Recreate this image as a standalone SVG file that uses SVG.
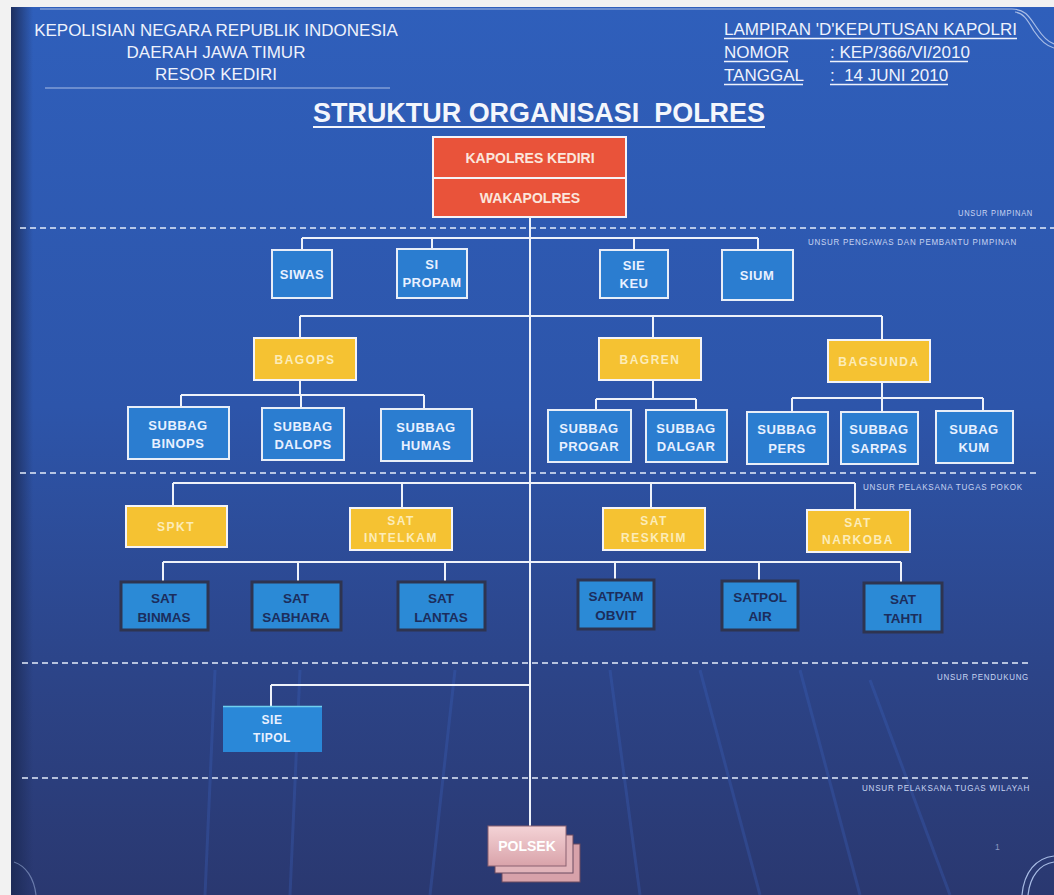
<svg xmlns="http://www.w3.org/2000/svg" width="1054" height="895" viewBox="0 0 1054 895">
<defs>
<linearGradient id="bg" x1="0" y1="0" x2="0" y2="1">
<stop offset="0" stop-color="#2f5fbb"/>
<stop offset="0.45" stop-color="#2d55aa"/>
<stop offset="0.75" stop-color="#2c4488"/>
<stop offset="1" stop-color="#2a3870"/>
</linearGradient>
<linearGradient id="leftshade" x1="0" y1="0" x2="1" y2="0">
<stop offset="0" stop-color="#1c2a55" stop-opacity="0.9"/>
<stop offset="1" stop-color="#1c2a55" stop-opacity="0"/>
</linearGradient>
<linearGradient id="pink" x1="0" y1="0" x2="0" y2="1">
<stop offset="0" stop-color="#f4d3d6"/>
<stop offset="1" stop-color="#d9a3aa"/>
</linearGradient>
<style>
.hdr{font-family:"Liberation Sans",Arial,sans-serif;font-size:17px;fill:#eef2fc}
.title{font-family:"Liberation Sans",Arial,sans-serif;font-size:27px;font-weight:bold;fill:#f4f6fc}
.lbl{font-family:"Liberation Sans",Arial,sans-serif;font-size:8.5px;fill:#c9d5f2;letter-spacing:0.8px}
.red{fill:#e9533a;stroke:#f4f4f8;stroke-width:2}
.rtx{font-family:"Liberation Sans",Arial,sans-serif;font-size:14px;font-weight:bold;fill:#fbe6dc;text-anchor:middle}
.blu{fill:#2b7dd0;stroke:#e8eef8;stroke-width:2}
.btx{font-family:"Liberation Sans",Arial,sans-serif;font-size:13px;font-weight:bold;fill:#e8f0ff;text-anchor:middle;letter-spacing:0.5px}
.yel{fill:#f5c232;stroke:#f4f4f8;stroke-width:2}
.ytx{font-family:"Liberation Sans",Arial,sans-serif;font-size:12px;font-weight:bold;fill:#fcecb8;text-anchor:middle;letter-spacing:1.5px}
.sat{fill:#2b8ad6;stroke:#2e3450;stroke-width:3}
.stx{font-family:"Liberation Sans",Arial,sans-serif;font-size:13.5px;font-weight:bold;fill:#1c2d5c;text-anchor:middle}
.dash{stroke:#e4ecfa;stroke-width:1.6;stroke-dasharray:6 4;fill:none}
.con path{stroke:#eef2fa;stroke-width:2;fill:none}
.deco{stroke:#a9bde6;stroke-width:1.2;fill:none}
.ray{stroke:#3b62c0;stroke-width:3;fill:none;opacity:0.3}
</style>
</defs>

<!-- background -->
<rect x="0" y="0" width="1054" height="895" fill="#f2f2f2"/>
<rect x="11" y="7" width="1043" height="888" fill="url(#bg)"/>
<rect x="11" y="7" width="22" height="888" fill="url(#leftshade)"/>

<!-- faint rays -->
<g id="rays">
<path class="ray" d="M215 670 L205 895"/>
<path class="ray" d="M300 670 L290 895"/>
<path class="ray" d="M455 670 L430 895"/>
<path class="ray" d="M610 670 L640 895"/>
<path class="ray" d="M700 670 L760 895"/>
<path class="ray" d="M800 670 L860 895"/>
<path class="ray" d="M870 680 L950 895"/>
</g>

<!-- decorations -->
<g id="decor">
<path class="deco" d="M40 9 H1012 C1026 9 1030 18 1037 28 C1043 37 1048 42 1054 44"/>
<path class="deco" d="M1015 12 C1024 13 1028 21 1034 31 C1040 40 1046 46 1054 48"/>
<path class="deco" d="M45 88 H390"/>
<path class="deco" d="M1054 856 C1036 858 1024 872 1022 895"/>
<path class="deco" d="M1054 862 C1040 864 1030 876 1028 895"/>
<path class="deco" d="M14 862 C26 866 34 878 36 895" opacity="0.5"/>
</g>

<!-- header -->
<g id="header">
<text class="hdr" x="216" y="36" text-anchor="middle">KEPOLISIAN NEGARA REPUBLIK INDONESIA</text>
<text class="hdr" x="216" y="58" text-anchor="middle">DAERAH JAWA TIMUR</text>
<text class="hdr" x="216" y="80" text-anchor="middle">RESOR KEDIRI</text>
<text class="hdr" x="724" y="35" textLength="293" lengthAdjust="spacingAndGlyphs">LAMPIRAN 'D'KEPUTUSAN KAPOLRI</text>
<text class="hdr" x="724" y="58">NOMOR</text>
<text class="hdr" x="830" y="58">: KEP/366/VI/2010</text>
<text class="hdr" x="724" y="81">TANGGAL</text>
<text class="hdr" x="830" y="81" xml:space="preserve">:  14 JUNI 2010</text>
<path stroke="#eef2fc" stroke-width="1.3" fill="none" d="M724 38.5 H1017 M724 61.5 H788 M830 61.5 H968 M724 84.5 H803 M830 84.5 H948"/>
<text class="title" x="539" y="122" text-anchor="middle" textLength="452" lengthAdjust="spacingAndGlyphs" xml:space="preserve">STRUKTUR ORGANISASI  POLRES</text>
<path stroke="#f4f6fc" stroke-width="2" d="M313 127 H765"/>
</g>

<!-- dashed separators and labels -->
<g id="bands">
<path class="dash" d="M20 228 H1054"/>
<path class="dash" d="M20 473 H1036"/>
<path class="dash" d="M22 663 H1030"/>
<path class="dash" d="M22 778 H1030"/>
<text class="lbl" x="958" y="216" textLength="75" lengthAdjust="spacingAndGlyphs">UNSUR PIMPINAN</text>
<text class="lbl" x="808" y="245" textLength="209" lengthAdjust="spacingAndGlyphs">UNSUR PENGAWAS DAN PEMBANTU PIMPINAN</text>
<text class="lbl" x="863" y="490" textLength="160" lengthAdjust="spacingAndGlyphs">UNSUR PELAKSANA TUGAS POKOK</text>
<text class="lbl" x="937" y="680" textLength="92" lengthAdjust="spacingAndGlyphs">UNSUR PENDUKUNG</text>
<text class="lbl" x="862" y="791" textLength="168" lengthAdjust="spacingAndGlyphs">UNSUR PELAKSANA TUGAS WILAYAH</text>
<text class="lbl" x="995" y="850" opacity="0.6">1</text>
</g>

<!-- connectors -->
<g id="connectors" class="con">
<path d="M530 217 V826"/>
<path d="M302 238 H758 M302 238 V250 M432 238 V249 M634 238 V250 M758 238 V250"/>
<path d="M300 316 H882 M300 316 V338 M653 316 V338 M882 316 V340"/>
<path d="M300 380 V395 M181 395 H424 M181 395 V407 M301 395 V408 M424 395 V409"/>
<path d="M653 380 V399 M596 399 H696 M596 399 V410 M696 399 V410"/>
<path d="M882 382 V398 M792 398 H983 M792 398 V412 M882 398 V412 M983 398 V411"/>
<path d="M173 483 H855 M173 483 V506 M402 483 V508 M651 483 V508 M855 483 V510"/>
<path d="M163 562 H901 M163 562 V582 M298 562 V582 M445 562 V582 M615 562 V580 M759 562 V581 M901 562 V583"/>
<path d="M271 685 H530 M271 685 V706"/>
</g>

<!-- nodes -->
<g id="kapolres">
<rect class="red" x="433" y="137" width="193" height="41"/>
<text class="rtx" x="530" y="163">KAPOLRES KEDIRI</text>
</g>
<g id="wakapolres">
<rect class="red" x="433" y="178" width="193" height="39"/>
<text class="rtx" x="530" y="203">WAKAPOLRES</text>
</g>

<g id="siwas"><rect class="blu" x="272" y="250" width="60" height="48"/><text class="btx" x="302" y="279">SIWAS</text></g>
<g id="sipropam"><rect class="blu" x="397" y="249" width="70" height="49"/><text class="btx" x="432" y="269">SI</text><text class="btx" x="432" y="287">PROPAM</text></g>
<g id="siekeu"><rect class="blu" x="600" y="250" width="68" height="48"/><text class="btx" x="634" y="270">SIE</text><text class="btx" x="634" y="288">KEU</text></g>
<g id="sium"><rect class="blu" x="722" y="250" width="71" height="50"/><text class="btx" x="757" y="280">SIUM</text></g>

<g id="bagops"><rect class="yel" x="254" y="338" width="102" height="42"/><text class="ytx" x="305" y="364">BAGOPS</text></g>
<g id="bagren"><rect class="yel" x="599" y="338" width="102" height="42"/><text class="ytx" x="650" y="364">BAGREN</text></g>
<g id="bagsunda"><rect class="yel" x="828" y="340" width="102" height="42"/><text class="ytx" x="879" y="366">BAGSUNDA</text></g>

<g id="binops"><rect class="blu" x="128" y="407" width="101" height="52"/><text class="btx" x="178" y="430">SUBBAG</text><text class="btx" x="178" y="448">BINOPS</text></g>
<g id="dalops"><rect class="blu" x="262" y="408" width="82" height="52"/><text class="btx" x="303" y="431">SUBBAG</text><text class="btx" x="303" y="449">DALOPS</text></g>
<g id="humas"><rect class="blu" x="381" y="409" width="91" height="52"/><text class="btx" x="426" y="432">SUBBAG</text><text class="btx" x="426" y="450">HUMAS</text></g>
<g id="progar"><rect class="blu" x="548" y="410" width="83" height="52"/><text class="btx" x="589" y="433">SUBBAG</text><text class="btx" x="589" y="451">PROGAR</text></g>
<g id="dalgar"><rect class="blu" x="646" y="410" width="81" height="52"/><text class="btx" x="686" y="433">SUBBAG</text><text class="btx" x="686" y="451">DALGAR</text></g>
<g id="pers"><rect class="blu" x="747" y="412" width="81" height="52"/><text class="btx" x="787" y="434">SUBBAG</text><text class="btx" x="787" y="453">PERS</text></g>
<g id="sarpas"><rect class="blu" x="841" y="412" width="77" height="52"/><text class="btx" x="879" y="434">SUBBAG</text><text class="btx" x="879" y="453">SARPAS</text></g>
<g id="kum"><rect class="blu" x="936" y="411" width="77" height="52"/><text class="btx" x="974" y="434">SUBAG</text><text class="btx" x="974" y="452">KUM</text></g>

<g id="spkt"><rect class="yel" x="126" y="506" width="101" height="41"/><text class="ytx" x="176" y="531">SPKT</text></g>
<g id="intelkam"><rect class="yel" x="350" y="508" width="102" height="42"/><text class="ytx" x="401" y="525">SAT</text><text class="ytx" x="401" y="542">INTELKAM</text></g>
<g id="reskrim"><rect class="yel" x="603" y="508" width="102" height="42"/><text class="ytx" x="654" y="525">SAT</text><text class="ytx" x="654" y="542">RESKRIM</text></g>
<g id="narkoba"><rect class="yel" x="807" y="510" width="103" height="42"/><text class="ytx" x="858" y="527">SAT</text><text class="ytx" x="858" y="544">NARKOBA</text></g>

<g id="binmas"><rect class="sat" x="121" y="582" width="87" height="48"/><text class="stx" x="164" y="603">SAT</text><text class="stx" x="164" y="622">BINMAS</text></g>
<g id="sabhara"><rect class="sat" x="252" y="582" width="89" height="48"/><text class="stx" x="296" y="603">SAT</text><text class="stx" x="296" y="622">SABHARA</text></g>
<g id="lantas"><rect class="sat" x="398" y="582" width="87" height="48"/><text class="stx" x="441" y="603">SAT</text><text class="stx" x="441" y="622">LANTAS</text></g>
<g id="satpam"><rect class="sat" x="578" y="580" width="76" height="49"/><text class="stx" x="616" y="601">SATPAM</text><text class="stx" x="616" y="620">OBVIT</text></g>
<g id="satpol"><rect class="sat" x="722" y="581" width="76" height="49"/><text class="stx" x="760" y="602">SATPOL</text><text class="stx" x="760" y="621">AIR</text></g>
<g id="tahti"><rect class="sat" x="864" y="583" width="78" height="49"/><text class="stx" x="903" y="604">SAT</text><text class="stx" x="903" y="623">TAHTI</text></g>

<g id="tipol">
<rect x="223" y="706" width="99" height="46" fill="#2a88d8"/>
<path d="M223 706.5 H322" stroke="#6fd0f0" stroke-width="1.5"/>
<text class="btx" x="272" y="724" style="font-size:12px">SIE</text>
<text class="btx" x="272" y="742" style="font-size:12px">TIPOL</text>
</g>

<g id="polsek">
<rect x="502" y="844" width="78" height="38" fill="#d8a2aa" stroke="#6a4a60" stroke-width="1"/>
<rect x="495" y="835" width="78" height="38" fill="#e2b4ba" stroke="#6a4a60" stroke-width="1"/>
<rect x="488" y="826" width="78" height="40" fill="url(#pink)" stroke="#8a6070" stroke-width="1"/>
<text x="527" y="851" text-anchor="middle" style="font-family:'Liberation Sans',Arial,sans-serif;font-size:14px;font-weight:bold;fill:#ffffff">POLSEK</text>
</g>
</svg>
